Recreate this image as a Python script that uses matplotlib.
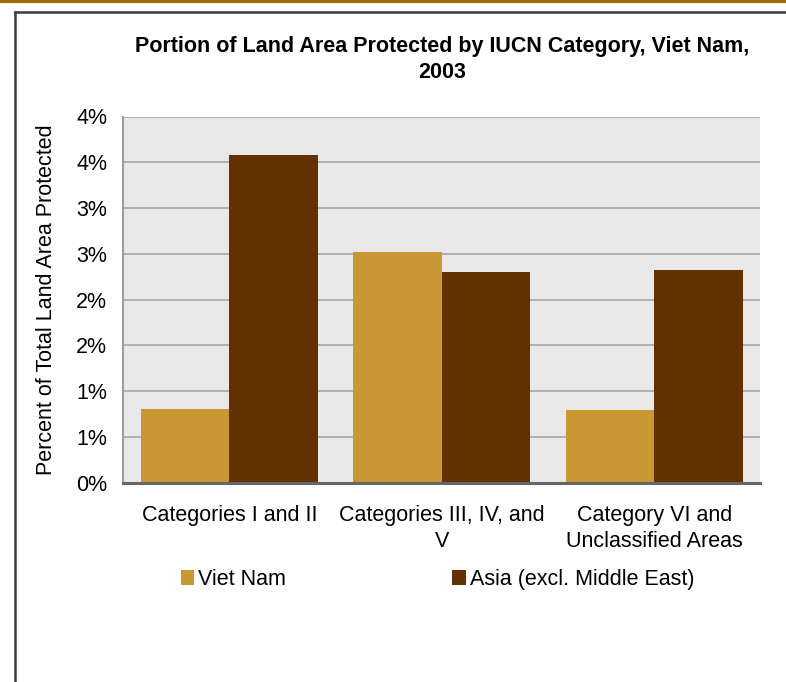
import matplotlib
matplotlib.use("Agg")
import matplotlib.pyplot as plt
from matplotlib.lines import Line2D
import numpy as np

plt.rcParams['font.family'] = ['Liberation Sans', 'DejaVu Sans']

categories = ["Categories I and II", "Categories III, IV, and\nV", "Category VI and\nUnclassified Areas"]
viet_nam = [0.805, 2.52, 0.795]
asia = [3.58, 2.30, 2.32]
series_names = ["Viet Nam", "Asia (excl. Middle East)"]
y_ticks = [0, 0.5, 1.0, 1.5, 2.0, 2.5, 3.0, 3.5, 4.0]
y_tick_labels = ["0%", "1%", "1%", "2%", "2%", "3%", "3%", "4%", "4%"]
title = "Portion of Land Area Protected by IUCN Category, Viet Nam,\n2003"
y_label = "Percent of Total Land Area Protected"

FS = 15.5
W, H = 786, 682
fig = plt.figure(figsize=(W / 100, H / 100), dpi=100)
fig.patch.set_facecolor("white")

# decorative frame
fig.add_artist(Line2D([0, 1], [1 - 1 / H, 1 - 1 / H], transform=fig.transFigure,
                      color="#a06a00", lw=2.2))
fig.add_artist(Line2D([15 / W, 1], [1 - 12 / H, 1 - 12 / H], transform=fig.transFigure,
                      color="#3a3a3a", lw=1.8))
fig.add_artist(Line2D([15 / W, 15 / W], [0, 1 - 12 / H], transform=fig.transFigure,
                      color="#3a3a3a", lw=1.8))

left, right, top, bottom = 123.3, 760.3, 116.5, 482.7
ax = fig.add_axes([left / W, 1 - bottom / H, (right - left) / W, (bottom - top) / H])
ax.set_facecolor("#e8e8e8")

x = np.arange(len(categories))
bw = 0.417
b1 = ax.bar(x - bw / 2, viet_nam, width=bw, color="#c99833", label=series_names[0], zorder=3)
b2 = ax.bar(x + bw / 2, asia, width=bw, color="#633100", label=series_names[1], zorder=3)

ax.set_xlim(-0.5, len(categories) - 0.5)
ax.set_ylim(0, 4.0)
ax.set_yticks(y_ticks)
ax.set_yticklabels(y_tick_labels, fontsize=FS)
ax.yaxis.grid(True, color="#a6a6a6", lw=1.2, zorder=1)
ax.set_axisbelow(True)
ax.tick_params(axis="y", length=0, pad=11.5)
ax.set_xticks(x)
ax.set_xticklabels(categories, fontsize=FS, linespacing=1.3)
ax.tick_params(axis="x", length=0, pad=16)

for s in ["top", "right"]:
    ax.spines[s].set_visible(False)
ax.spines["left"].set_color("#8c8c8c")
ax.spines["left"].set_linewidth(1.2)
ax.spines["bottom"].set_color("#666666")
ax.spines["bottom"].set_linewidth(2.2)
ax.spines["bottom"].set_zorder(4)

ax.set_ylabel(y_label, fontsize=FS, labelpad=14)
fig.text((left + right) / 2 / W, 1 - 59.5 / H, title, fontsize=FS, fontweight="bold",
         ha="center", va="center", linespacing=1.3)

fig.legend(handles=[b1, b2], labels=series_names, loc="center left",
           bbox_to_anchor=(180.5 / W, 1 - 579.5 / H), ncol=2, frameon=False,
           fontsize=FS, handlelength=0.65, handleheight=0.65, handletextpad=0.15,
           columnspacing=7.75, borderaxespad=0, borderpad=0)

fig.savefig("out.png", dpi=100, facecolor="white")
